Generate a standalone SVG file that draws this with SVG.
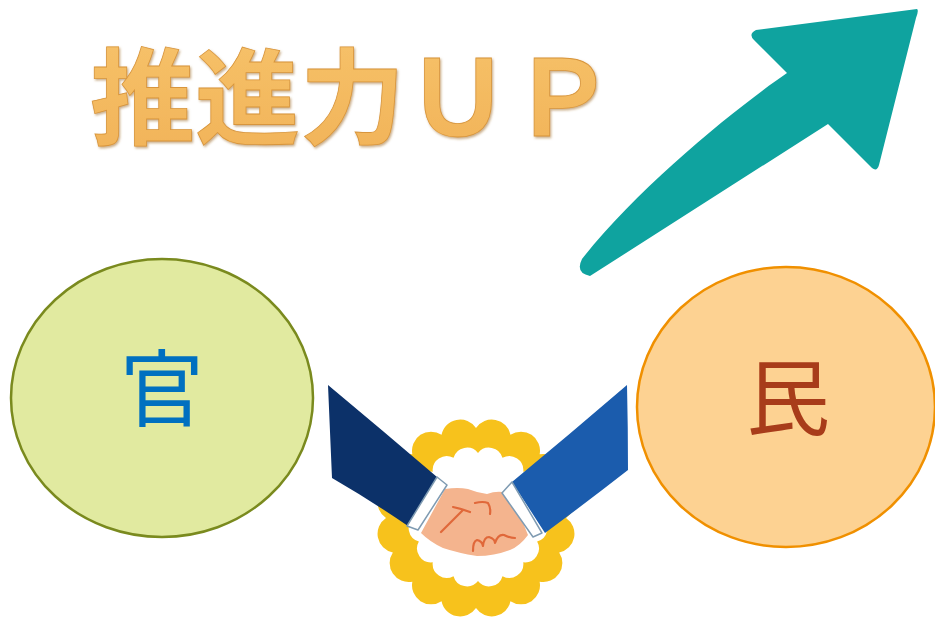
<svg xmlns="http://www.w3.org/2000/svg" width="935" height="617" viewBox="0 0 935 617">
  <style>
    .title { font-family: "Noto Sans CJK JP", "Noto Sans", sans-serif; font-size: 105px; font-weight: 700; fill: url(#goldFill); stroke: #d8953c; stroke-width: 0.8; filter: url(#emboss); }
    .node-label { font-family: "Noto Sans CJK JP", "Noto Sans", sans-serif; font-size: 84px; text-anchor: middle; }
    .cuff { fill: #ffffff; stroke: #7f9bb2; stroke-width: 1.5; stroke-linejoin: round; }
    .finger { fill: none; stroke: #e0683a; stroke-width: 2.2; stroke-linecap: round; stroke-linejoin: round; }
  </style>
  <defs>
    <linearGradient id="goldFill" x1="0" y1="0" x2="0" y2="1">
      <stop offset="0" stop-color="#f7c46c"/>
      <stop offset="1" stop-color="#f1b257"/>
    </linearGradient>
    <filter id="emboss" x="-5%" y="-5%" width="115%" height="120%">
      <feDropShadow dx="1.2" dy="1.6" stdDeviation="0.8" flood-color="#9c6a28" flood-opacity="0.55"/>
    </filter>
  </defs>

  <rect width="935" height="617" fill="#ffffff"/>

  <!-- headline -->
  <g id="headline">
    <text class="title" x="90" y="136">推進力ＵＰ</text>
  </g>

  <!-- rising arrow -->
  <g id="rise-arrow">
    <path d="M917,9 L756,30 Q748,34 754,40 L787,73 C740,105 640,185 582,259 Q575,273 590,276 L828,124 L872,168 Q877,172 879,165 L916,18 Q919,10 917,9 Z" fill="#0fa39f"/>
  </g>

  <!-- public sector -->
  <g id="node-kan">
    <ellipse cx="162" cy="398" rx="151" ry="139" fill="#e1eaa0" stroke="#7a8a1e" stroke-width="2.5"/>
    <text class="node-label" x="162" y="420" fill="#0070c0">官</text>
  </g>

  <!-- private sector -->
  <g id="node-min">
    <ellipse cx="786" cy="407" rx="149" ry="140" fill="#fdd292" stroke="#f09000" stroke-width="2.5"/>
    <text class="node-label" x="788" y="429" fill="#a83c1a">民</text>
  </g>

  <!-- handshake emblem -->
  <g id="handshake">
    <path fill="#f7c21c" d="M566,518 A19,19 0 0 1 559.15,552.44 A19,19 0 0 1 539.64,581.64 A19,19 0 0 1 510.44,601.15 A19,19 0 0 1 476,608 A19,19 0 0 1 441.56,601.15 A19,19 0 0 1 412.36,581.64 A19,19 0 0 1 392.85,552.44 A19,19 0 0 1 386,518 A19,19 0 0 1 392.85,483.56 A19,19 0 0 1 412.36,454.36 A19,19 0 0 1 441.56,434.85 A19,19 0 0 1 476,428 A19,19 0 0 1 510.44,434.85 A19,19 0 0 1 539.64,454.36 A19,19 0 0 1 559.15,483.56 A19,19 0 0 1 566,518 Z"/>
    <path fill="#ffffff" d="M542,517 A14,14 0 0 1 537.13,541.49 A14,14 0 0 1 523.25,562.25 A14,14 0 0 1 502.49,576.13 A14,14 0 0 1 478,581 A14,14 0 0 1 453.51,576.13 A14,14 0 0 1 432.75,562.25 A14,14 0 0 1 418.87,541.49 A14,14 0 0 1 414,517 A14,14 0 0 1 418.87,492.51 A14,14 0 0 1 432.75,471.75 A14,14 0 0 1 453.51,457.87 A14,14 0 0 1 478,453 A14,14 0 0 1 502.49,457.87 A14,14 0 0 1 523.25,471.75 A14,14 0 0 1 537.13,492.51 A14,14 0 0 1 542,517 Z"/>
    <!-- clasped hands -->
    <path fill="#f4b48e" d="M445,489 Q458,487 468,489 Q478,493 487,494 Q495,491 503,492 L513,498 L528,535 Q520,546 510,550 Q494,556 477,556 Q458,553 443,548 Q430,542 421,533 Z"/>
    <path class="finger" d="M453,507 Q462,509 470,512 M463,510 Q452,521 441,532 M475,503 Q483,501 488,503 Q491,508 490,514"/>
    <path class="finger" d="M473,551 Q473,541 477,540 Q482,541 483,546 Q484,537 489,537 Q495,539 495,543 Q498,534 504,535 Q510,538 515,538"/>
    <!-- left sleeve and cuff -->
    <path fill="#0c3169" d="M328,385 Q330,432 332,478 Q370,500 408,526 L437,477 Q382,430 328,385 Z"/>
    <path class="cuff" d="M437,477 L447,485 L418,530 L407,526 Z"/>
    <!-- right sleeve and cuff -->
    <path fill="#1b5cad" d="M627,385 Q628,428 628,470 Q587,502 545,533 L512,482 Q570,434 627,385 Z"/>
    <path class="cuff" d="M512,482 L502,493 L533,537 L542,533 Z"/>
  </g>
</svg>
